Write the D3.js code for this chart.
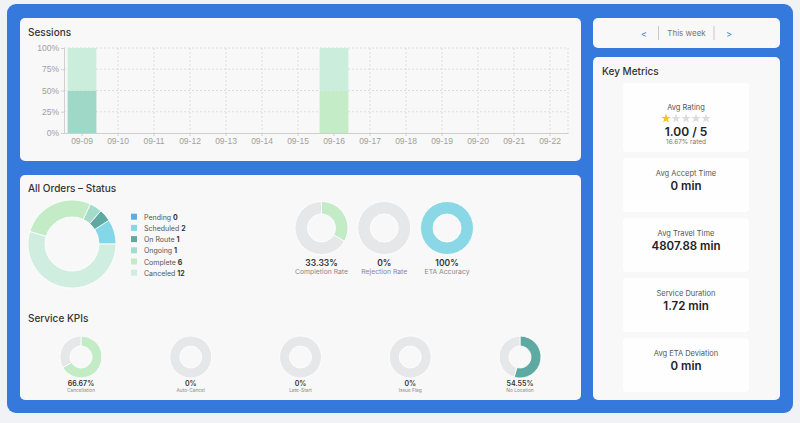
<!DOCTYPE html>
<html>
<head>
<meta charset="utf-8">
<script src="https://cdn.jsdelivr.net/npm/d3@7"></script>
<style>
  html, body { margin: 0; padding: 0; background: #f0f2f5; }
  svg { display: block; font-family: Inter, "Noto Sans", sans-serif; }
  .title { font-size: 10px; font-weight: 500; fill: #333; }
  .axis text { font-size: 8.5px; fill: #a0a0a0; }
  .axis path, .axis line { stroke: #cfcfcf; }
  .grid line { stroke: #dcdcdc; stroke-dasharray: 2 2; }
</style>
</head>
<body>
<svg id="chart" width="800" height="423"></svg>
<script>
const days = ["09-09", "09-10", "09-11", "09-12", "09-13", "09-14", "09-15",
  "09-16", "09-17", "09-18", "09-19", "09-20", "09-21", "09-22"];
const sessOngoing = [50, 0, 0, 0, 0, 0, 0, 0, 0, 0, 0, 0, 0, 0];
const sessComplete = [0, 0, 0, 0, 0, 0, 0, 50, 0, 0, 0, 0, 0, 0];
const sessCanceled = [50, 0, 0, 0, 0, 0, 0, 50, 0, 0, 0, 0, 0, 0];
const pctTicks = [0, 25, 50, 75, 100];

const statusLabels = ["Pending", "Scheduled", "On Route", "Ongoing", "Complete", "Canceled"];
const statusCounts = [0, 2, 1, 1, 6, 12];
const statusColors = ["#5dade2", "#83d7e6", "#5ea9a1", "#a3dccb", "#c3ecc6", "#cfeee0"];

const rateLabels = ["Completion Rate", "Rejection Rate", "ETA Accuracy"];
const rateValues = [33.33, 0, 100];
const rateColors = ["#c3ecc6", "#c3ecc6", "#8ad8e6"];

const kpiLabels = ["Cancellation", "Auto-Cancel", "Late-Start", "Issue Flag", "No Location"];
const kpiValues = [66.67, 0, 0, 0, 54.55];
const kpiColors = ["#c3ecc6", "#c3ecc6", "#c3ecc6", "#c3ecc6", "#5ea9a1"];

const metricLabels = ["Avg Accept Time", "Avg Travel Time", "Service Duration", "Avg ETA Deviation"];
const metricValues = ["0 min", "4807.88 min", "1.72 min", "0 min"];
const rating = 1;
const ratedPct = "16.67%";

const svg = d3.select("#chart");

// frame and panels
svg.append("rect").attr("x", 7).attr("y", 4).attr("width", 786).attr("height", 409)
  .attr("rx", 9).attr("fill", "#3579dc");

const panels = [
  [20, 18, 561, 143], [20, 175, 561, 225], [593, 18, 187, 30], [593, 57, 187, 343]
];
for (const [x, y, w, h] of panels) {
  svg.append("rect").attr("x", x).attr("y", y).attr("width", w).attr("height", h)
    .attr("rx", 5).attr("fill", "#f8f8f8");
}

function title(x, y, t) {
  svg.append("text").attr("class", "title").attr("x", x).attr("y", y)
    .attr("dominant-baseline", "central").text(t);
}

// ---- Sessions stacked bars
title(28, 32, "Sessions");

const x = d3.scaleBand().domain(days).range([64, 568]).paddingInner(0.2).paddingOuter(0.1);
const y = d3.scaleLinear().domain([0, 100]).range([133, 48]);

const grid = svg.append("g").attr("class", "grid");
grid.selectAll("line.h").data(pctTicks.slice(1)).join("line").attr("class", "h")
  .attr("x1", 64).attr("x2", 568).attr("y1", (d) => y(d)).attr("y2", (d) => y(d));
grid.selectAll("line.v").data(days.slice(1)).join("line").attr("class", "v")
  .attr("x1", (d) => x(d) + x.bandwidth() / 2).attr("x2", (d) => x(d) + x.bandwidth() / 2)
  .attr("y1", 48).attr("y2", 133);
grid.append("line").attr("x1", 568).attr("x2", 568).attr("y1", 48).attr("y2", 133);

const rows = days.map((d, i) => ({
  day: d, ongoing: sessOngoing[i], complete: sessComplete[i], canceled: sessCanceled[i]
}));
const stack = d3.stack().keys(["ongoing", "complete", "canceled"])(rows);
const sessColors = { ongoing: "#9fd8c6", complete: "#c4ecc7", canceled: "#cbeedc" };

svg.append("g").selectAll("g").data(stack).join("g")
  .attr("fill", (s) => sessColors[s.key])
  .selectAll("rect").data((s) => s.filter((d) => d[1] > d[0])).join("rect")
  .attr("x", (d) => x(d.data.day)).attr("width", x.bandwidth())
  .attr("y", (d) => y(d[1])).attr("height", (d) => y(d[0]) - y(d[1]));

svg.append("g").attr("class", "axis").attr("transform", "translate(64,0)")
  .call(d3.axisLeft(y).tickValues(pctTicks).tickFormat((d) => d + "%").tickSize(3).tickPadding(2));
svg.append("g").attr("class", "axis").attr("transform", "translate(0,133)")
  .call(d3.axisBottom(x).tickSize(3).tickSizeOuter(0).tickPadding(2));

// ---- All orders donut
title(28, 188, "All Orders – Status");

const bigPie = d3.pie().sort(null).startAngle(Math.PI / 2).endAngle(Math.PI / 2 - 2 * Math.PI);
const bigArc = d3.arc().innerRadius(27).outerRadius(44);
svg.append("g").attr("transform", "translate(72,244)")
  .selectAll("path").data(bigPie(statusCounts)).join("path")
  .attr("d", bigArc).attr("fill", (d, i) => statusColors[i])
  .attr("stroke", "#fff").attr("stroke-width", 0.8);

const legend = svg.append("g").selectAll("g").data(statusLabels).join("g")
  .attr("transform", (d, i) => `translate(131,${216.7 + i * 11.2})`);
legend.append("rect").attr("x", 0).attr("y", -3).attr("width", 6).attr("height", 6)
  .attr("fill", (d, i) => statusColors[i]);
const lt = legend.append("text").attr("x", 13).attr("dominant-baseline", "central")
  .attr("font-size", 7).attr("fill", "#555");
lt.append("tspan").text((d) => d + " ");
lt.append("tspan").attr("font-weight", 700).attr("fill", "#333")
  .text((d, i) => statusCounts[i]);

function gauge(cx, cy, r0, r1, value, color, vSize, label, lSize, vDy, lDy) {
  const g = svg.append("g").attr("transform", `translate(${cx},${cy})`);
  const parts = [value, 100 - value].map((v, i) => ({ v, i }));
  const pie = d3.pie().sort(null).value((d) => d.v);
  const arc = d3.arc().innerRadius(r0).outerRadius(r1);
  g.selectAll("path").data(pie(parts).filter((d) => d.data.i === 0 || d.data.v > 0)).join("path")
    .attr("d", arc).attr("fill", (d) => (d.data.i === 0 ? color : "#e6e7e9"))
    .attr("stroke", "#fff").attr("stroke-width", 0.8);
  g.append("text").attr("y", vDy).attr("text-anchor", "middle").attr("dominant-baseline", "central")
    .attr("font-size", vSize).attr("font-weight", 600).attr("fill", "#333")
    .text(d3.format("~f")(value) + "%");
  g.append("text").attr("y", lDy).attr("text-anchor", "middle").attr("dominant-baseline", "central")
    .attr("font-size", lSize).attr("fill", "#888").text(label);
}

const rateX = d3.scalePoint().domain(rateLabels).range([321.5, 447]);
rateLabels.forEach((l, i) =>
  gauge(rateX(l), 228, 14, 26.5, rateValues[i], rateColors[i], 8.5, l, 6.8, 34.5, 43.5));

// ---- Service KPIs
title(28, 318, "Service KPIs");
const kpiX = d3.scalePoint().domain(kpiLabels).range([81, 520]);
kpiLabels.forEach((l, i) =>
  gauge(kpiX(l), 357, 11, 21, kpiValues[i], kpiColors[i], 7, l, 4.8, 26.5, 33));

// ---- week nav
const nav = svg.append("g").attr("font-size", 8);
nav.append("text").attr("x", 644).attr("y", 33).attr("text-anchor", "middle")
  .attr("dominant-baseline", "central").attr("fill", "#3a7bd5").attr("font-size", 9).text("<");
nav.append("text").attr("x", 729).attr("y", 33).attr("text-anchor", "middle")
  .attr("dominant-baseline", "central").attr("fill", "#3a7bd5").attr("font-size", 9).text(">");
nav.append("text").attr("x", 686.5).attr("y", 33).attr("text-anchor", "middle")
  .attr("dominant-baseline", "central").attr("fill", "#777").text("This week");
for (const dx of [658.5, 714]) {
  nav.append("line").attr("x1", dx).attr("x2", dx).attr("y1", 26).attr("y2", 40)
    .attr("stroke", "#bbb").attr("stroke-width", 0.8);
}

// ---- Key metrics
title(602, 71, "Key Metrics");

const cardX = 623, cardW = 126;
svg.append("rect").attr("x", cardX).attr("y", 83).attr("width", cardW).attr("height", 69)
  .attr("rx", 4).attr("fill", "#fefefe");
const cx = cardX + cardW / 2;
svg.append("text").attr("x", cx).attr("y", 107).attr("text-anchor", "middle")
  .attr("dominant-baseline", "central").attr("font-size", 7.5).attr("fill", "#555").text("Avg Rating");
const starX = d3.scalePoint().domain(d3.range(5)).range([cx - 20, cx + 20]);
const star = d3.symbol().type(d3.symbolStar).size(28);
svg.append("g").selectAll("path").data(d3.range(5)).join("path")
  .attr("transform", (d) => `translate(${starX(d)},118.5)`)
  .attr("d", star).attr("fill", (d) => (d < rating ? "#f5c518" : "#dcdcdc"));
svg.append("text").attr("x", cx).attr("y", 131).attr("text-anchor", "middle")
  .attr("dominant-baseline", "central").attr("font-size", 12).attr("font-weight", 600)
  .attr("fill", "#222").text(d3.format(".2f")(rating) + " / 5");
svg.append("text").attr("x", cx).attr("y", 141.5).attr("text-anchor", "middle")
  .attr("dominant-baseline", "central").attr("font-size", 6.5).attr("fill", "#777")
  .text(ratedPct + " rated");

const cards = svg.append("g").selectAll("g").data(metricLabels).join("g")
  .attr("transform", (d, i) => `translate(${cardX},${158 + i * 60})`);
cards.append("rect").attr("width", cardW).attr("height", 54).attr("rx", 4).attr("fill", "#fefefe");
cards.append("text").attr("x", cardW / 2).attr("y", 15).attr("text-anchor", "middle")
  .attr("dominant-baseline", "central").attr("font-size", 7.5).attr("fill", "#555").text((d) => d);
cards.append("text").attr("x", cardW / 2).attr("y", 28).attr("text-anchor", "middle")
  .attr("dominant-baseline", "central").attr("font-size", 11.5).attr("font-weight", 600)
  .attr("fill", "#222").text((d, i) => metricValues[i]);
</script>
</body>
</html>
